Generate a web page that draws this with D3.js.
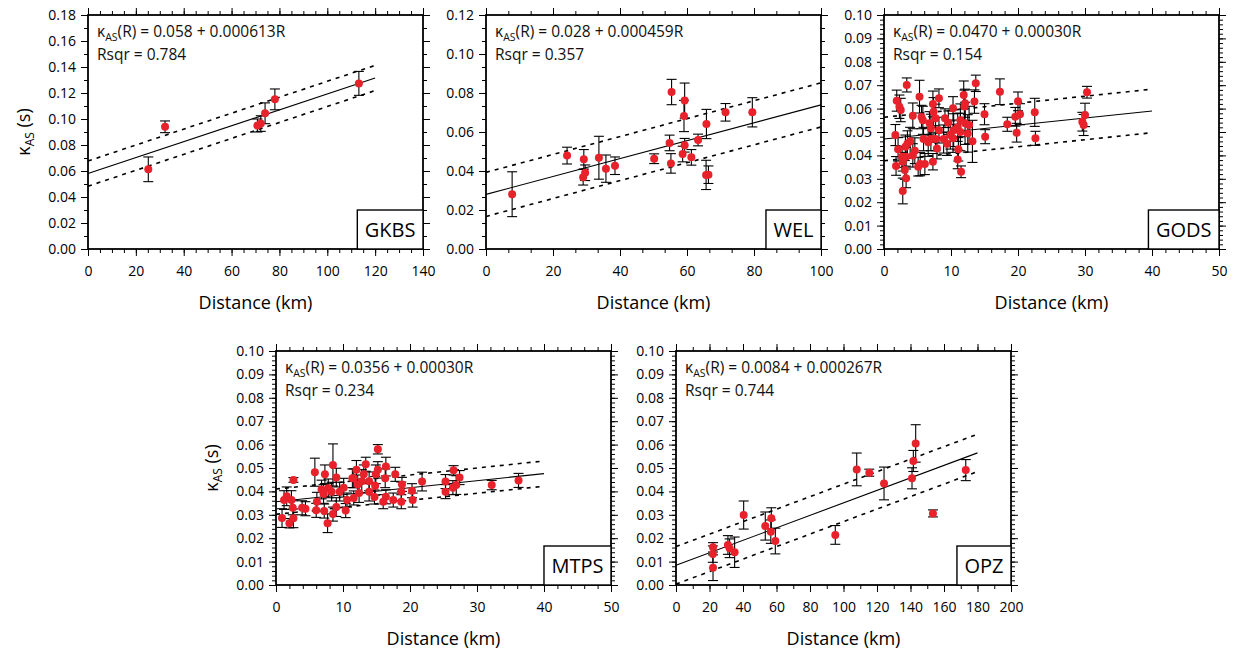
<!DOCTYPE html>
<html>
<head>
<meta charset="utf-8">
<script src="https://cdn.jsdelivr.net/npm/d3@7"></script>
<style>
  body { margin: 0; background: #fff; }
  svg { display: block; font-family: "Open Sans", sans-serif; }
</style>
</head>
<body>
<div id="chart"></div>
<script>
// ---- data (distance km, kappa s, error s) ----
const gkbsDist = [25.2, 32.2, 70.8, 72.2, 74.0, 78.1, 113.2];
const gkbsKappa = [0.0613, 0.0940, 0.0950, 0.0965, 0.1044, 0.1151, 0.1274];
const gkbsErr = [0.0095, 0.0045, 0.0050, 0.0060, 0.0080, 0.0080, 0.0092];

const welDist = [7.8, 24.2, 29.2, 29.6, 29.0, 33.7, 35.8, 38.5, 50.2, 54.8, 55.2, 55.4, 59.3, 59.1, 59.3, 58.7, 61.3, 63.3, 65.8, 65.7, 66.4, 71.5, 79.5];
const welKappa = [0.0281, 0.0479, 0.0460, 0.0391, 0.0368, 0.0468, 0.0412, 0.0427, 0.0463, 0.0544, 0.0439, 0.0805, 0.0761, 0.0682, 0.0532, 0.0487, 0.0470, 0.0559, 0.0641, 0.0380, 0.0381, 0.0701, 0.0701];
const welErr = [0.0115, 0.0043, 0.0050, 0.0040, 0.0040, 0.0110, 0.0070, 0.0045, 0.0025, 0.0040, 0.0050, 0.0065, 0.0090, 0.0080, 0.0035, 0.0040, 0.0040, 0.0030, 0.0075, 0.0075, 0.0045, 0.0045, 0.0075];

const godsDist = [30.3, 30.0, 29.6, 29.8, 22.5, 22.6, 20.0, 20.3, 19.6, 19.8, 17.3, 18.4, 15.0, 15.1, 13.7, 13.5, 12.1, 12.0, 11.9, 11.5,
  11.0, 11.1, 12.1, 12.5, 11.0, 11.4, 10.3, 10.3, 9.6, 9.1, 8.2, 7.3, 7.4, 7.0, 7.7, 7.9, 7.3, 7.0, 6.6, 6.1,
  5.4, 5.1, 5.3, 5.6, 5.8, 4.3, 3.9, 4.3, 4.6, 3.3, 3.4, 3.2, 3.1, 3.3, 2.8, 2.7, 2.8, 2.3, 1.9, 2.5,
  1.7, 1.8, 2.1, 3.5, 5.9, 8.9, 9.4, 9.9, 10.4, 11.4, 12.7, 13.2, 6.8, 7.7, 8.2];
const godsKappa = [0.0670, 0.0573, 0.0544, 0.0530, 0.0584, 0.0473, 0.0631, 0.0576, 0.0565, 0.0497, 0.0672, 0.0533, 0.0576, 0.0480, 0.0708, 0.0630, 0.0623, 0.0609, 0.0658, 0.0330,
  0.0383, 0.0426, 0.0537, 0.0494, 0.0520, 0.0550, 0.0601, 0.0473, 0.0540, 0.0559, 0.0644, 0.0620, 0.0587, 0.0516, 0.0470, 0.0430, 0.0373, 0.0470, 0.0456, 0.0363,
  0.0363, 0.0352, 0.0651, 0.0564, 0.0550, 0.0569, 0.0460, 0.0400, 0.0420, 0.0394, 0.0701, 0.0437, 0.0338, 0.0302, 0.0248, 0.0394, 0.0373, 0.0608, 0.0634, 0.0594,
  0.0487, 0.0355, 0.0426, 0.0450, 0.0470, 0.0470, 0.0450, 0.0487, 0.0508, 0.0500, 0.0530, 0.0460, 0.0537, 0.0559, 0.0508];
const godsErr = [0.0025, 0.0050, 0.0040, 0.0045, 0.0060, 0.0030, 0.0040, 0.0045, 0.0040, 0.0040, 0.0055, 0.0030, 0.0045, 0.0030, 0.0035, 0.0050, 0.0060, 0.0070, 0.0060, 0.0025,
  0.0040, 0.0050, 0.0090, 0.0080, 0.0060, 0.0070, 0.0050, 0.0060, 0.0050, 0.0040, 0.0040, 0.0055, 0.0060, 0.0060, 0.0050, 0.0045, 0.0035, 0.0050, 0.0060, 0.0045,
  0.0050, 0.0040, 0.0070, 0.0050, 0.0060, 0.0055, 0.0060, 0.0050, 0.0055, 0.0040, 0.0030, 0.0050, 0.0040, 0.0040, 0.0055, 0.0045, 0.0040, 0.0050, 0.0045, 0.0050,
  0.0045, 0.0040, 0.0050, 0.0055, 0.0050, 0.0060, 0.0050, 0.0060, 0.0070, 0.0080, 0.0080, 0.0090, 0.0050, 0.0060, 0.0055];

const mtpsDist = [36.2, 32.2, 26.5, 27.4, 26.9, 26.4, 25.3, 25.3, 21.8, 20.4, 20.3, 18.7, 18.8, 18.7, 17.8, 17.5, 15.2, 16.4, 16.3, 16.4,
  16.0, 14.9, 15.2, 14.8, 14.7, 13.9, 13.9, 13.4, 13.1, 12.8, 12.4, 12.0, 11.6, 11.4, 10.6, 10.4, 10.1, 9.5, 9.0, 8.5,
  8.5, 9.0, 8.3, 7.8, 7.3, 7.1, 6.8, 7.2, 7.7, 6.1, 6.0, 5.8, 4.4, 3.9, 2.6, 2.5, 2.6, 2.0, 2.3, 1.6,
  1.2, 0.9, 11.6, 12.2];
const mtpsKappa = [0.0447, 0.0427, 0.0490, 0.0459, 0.0427, 0.0416, 0.0442, 0.0399, 0.0442, 0.0363, 0.0403, 0.0356, 0.0430, 0.0400, 0.0473, 0.0363, 0.0580, 0.0506, 0.0456, 0.0377,
  0.0356, 0.0473, 0.0492, 0.0424, 0.0376, 0.0443, 0.0399, 0.0516, 0.0473, 0.0443, 0.0393, 0.0492, 0.0372, 0.0456, 0.0363, 0.0318, 0.0416, 0.0399, 0.0459, 0.0513,
  0.0303, 0.0333, 0.0399, 0.0413, 0.0473, 0.0389, 0.0408, 0.0316, 0.0264, 0.0356, 0.0319, 0.0482, 0.0326, 0.0330, 0.0449, 0.0330, 0.0285, 0.0264, 0.0363, 0.0379,
  0.0363, 0.0286, 0.0456, 0.0430];
const mtpsErr = [0.0030, 0.0020, 0.0020, 0.0030, 0.0040, 0.0030, 0.0030, 0.0030, 0.0040, 0.0030, 0.0030, 0.0030, 0.0030, 0.0040, 0.0030, 0.0030, 0.0020, 0.0040, 0.0040, 0.0030,
  0.0030, 0.0040, 0.0035, 0.0040, 0.0030, 0.0040, 0.0040, 0.0030, 0.0040, 0.0050, 0.0040, 0.0040, 0.0030, 0.0040, 0.0030, 0.0030, 0.0040, 0.0040, 0.0040, 0.0090,
  0.0030, 0.0040, 0.0040, 0.0040, 0.0040, 0.0040, 0.0040, 0.0030, 0.0040, 0.0040, 0.0030, 0.0060, 0.0030, 0.0030, 0.0010, 0.0030, 0.0040, 0.0020, 0.0040, 0.0040,
  0.0040, 0.0040, 0.0040, 0.0040];

const opzDist = [22.1, 22.0, 22.1, 31.0, 32.0, 35.0, 40.4, 53.3, 56.9, 56.6, 59.3, 95.1, 107.9, 115.4, 124.2, 140.9, 141.7, 143.1, 153.4, 173.0];
const opzKappa = [0.0161, 0.0132, 0.0074, 0.0171, 0.0157, 0.0140, 0.0299, 0.0252, 0.0285, 0.0228, 0.0188, 0.0214, 0.0494, 0.0480, 0.0434, 0.0456, 0.0530, 0.0605, 0.0306, 0.0491];
const opzErr = [0.0020, 0.0035, 0.0055, 0.0040, 0.0040, 0.0065, 0.0060, 0.0060, 0.0045, 0.0050, 0.0055, 0.0040, 0.0070, 0.0015, 0.0070, 0.0045, 0.0045, 0.0080, 0.0015, 0.0045];

// regression: [intercept, slope, max distance, band half-width]
const gkbsFit = [0.058, 0.000613, 120, 0.0097];
const welFit = [0.028, 0.000459, 100, 0.0113];
const godsFit = [0.0470, 0.00030, 40, 0.0093];
const mtpsFit = [0.0356, 0.00030, 40, 0.0054];
const opzFit = [0.0084, 0.000267, 180, 0.0080];

const width = 1238;
const height = 652;
const plotW = 335;
const plotH = 234;
const pointColor = '#e8222b';

const panels = [
  {name: 'GKBS', dist: gkbsDist, kappa: gkbsKappa, err: gkbsErr, fit: gkbsFit, eq: '(R) = 0.058 + 0.000613R', rsq: 'Rsqr = 0.784',
    left: 88, top: 15, xMax: 140, xStep: 20, xMinor: 5, yMax: 0.18, yStep: 0.02, yMinor: 0.01, yLabel: true},
  {name: 'WEL', dist: welDist, kappa: welKappa, err: welErr, fit: welFit, eq: '(R) = 0.028 + 0.000459R', rsq: 'Rsqr = 0.357',
    left: 486, top: 15, xMax: 100, xStep: 20, xMinor: 20 / 3, yMax: 0.12, yStep: 0.02, yMinor: 0.02 / 3},
  {name: 'GODS', dist: godsDist, kappa: godsKappa, err: godsErr, fit: godsFit, eq: '(R) = 0.0470 + 0.00030R', rsq: 'Rsqr = 0.154',
    left: 884, top: 15, xMax: 50, xStep: 10, xMinor: 2, yMax: 0.10, yStep: 0.01, yMinor: 0.002},
  {name: 'MTPS', dist: mtpsDist, kappa: mtpsKappa, err: mtpsErr, fit: mtpsFit, eq: '(R) = 0.0356 + 0.00030R', rsq: 'Rsqr = 0.234',
    left: 276, top: 351, xMax: 50, xStep: 10, xMinor: 2, yMax: 0.10, yStep: 0.01, yMinor: 0.002, yLabel: true},
  {name: 'OPZ', dist: opzDist, kappa: opzKappa, err: opzErr, fit: opzFit, eq: '(R) = 0.0084 + 0.000267R', rsq: 'Rsqr = 0.744',
    left: 676, top: 351, xMax: 200, xStep: 20, xMinor: 10, yMax: 0.10, yStep: 0.01, yMinor: 0.002}
];

function steps(max, step) {
  const n = Math.round(max / step);
  return d3.range(n + 1).map(i => i * step);
}

function cleanAxis(g) {
  g.select('.domain').remove();
  g.selectAll('line').attr('stroke', '#000').attr('stroke-width', 1);
}

function renderPanel(svg, p) {
  const x = d3.scaleLinear().domain([0, p.xMax]).range([0, plotW]);
  const y = d3.scaleLinear().domain([0, p.yMax]).range([plotH, 0]);
  const g = svg.append('g').attr('transform', `translate(${p.left},${p.top})`);

  const xMajor = steps(p.xMax, p.xStep);
  const xMinor = steps(p.xMax, p.xMinor);
  const yMajor = steps(p.yMax, p.yStep);
  const yMinor = steps(p.yMax, p.yMinor);

  // minor ticks on all four sides
  g.append('g').attr('transform', `translate(0,${plotH})`)
    .call(d3.axisBottom(x).tickValues(xMinor).tickSize(4).tickFormat(''))
    .call(cleanAxis);
  g.append('g')
    .call(d3.axisTop(x).tickValues(xMinor).tickSize(4).tickFormat(''))
    .call(cleanAxis);
  g.append('g')
    .call(d3.axisLeft(y).tickValues(yMinor).tickSize(4).tickFormat(''))
    .call(cleanAxis);
  g.append('g').attr('transform', `translate(${plotW},0)`)
    .call(d3.axisRight(y).tickValues(yMinor).tickSize(4).tickFormat(''))
    .call(cleanAxis);

  // major ticks
  const xAxis = g.append('g').attr('transform', `translate(0,${plotH})`)
    .call(d3.axisBottom(x).tickValues(xMajor).tickSize(7).tickPadding(10).tickFormat(d3.format('d')))
    .call(cleanAxis);
  g.append('g')
    .call(d3.axisTop(x).tickValues(xMajor).tickSize(7).tickFormat(''))
    .call(cleanAxis);
  const yAxis = g.append('g')
    .call(d3.axisLeft(y).tickValues(yMajor).tickSize(7).tickPadding(5).tickFormat(d3.format('.2f')))
    .call(cleanAxis);
  g.append('g').attr('transform', `translate(${plotW},0)`)
    .call(d3.axisRight(y).tickValues(yMajor).tickSize(7).tickFormat(''))
    .call(cleanAxis);

  xAxis.selectAll('text').attr('font-size', 14).attr('font-family', '"Open Sans", sans-serif').attr('fill', '#000');
  yAxis.selectAll('text').attr('font-size', 14).attr('font-family', '"Open Sans", sans-serif').attr('fill', '#000');

  // plot area
  const plot = g.append('g');
  const [b0, b1, rMax, band] = p.fit;
  const fitLine = d3.line().x(d => x(d[0])).y(d => y(d[1]));
  const ends = [0, rMax];
  [band, -band].forEach(off => {
    plot.append('path')
      .attr('d', fitLine(ends.map(r => [r, b0 + b1 * r + off])))
      .attr('fill', 'none')
      .attr('stroke', '#000')
      .attr('stroke-width', 1.6)
      .attr('stroke-dasharray', '4,5');
  });
  plot.append('path')
    .attr('d', fitLine(ends.map(r => [r, b0 + b1 * r])))
    .attr('fill', 'none')
    .attr('stroke', '#000')
    .attr('stroke-width', 1.1);

  const pts = p.dist.map((d, i) => ({d, k: p.kappa[i], e: p.err[i]}));
  const bars = plot.append('g').attr('stroke', '#000').attr('stroke-width', 1.1);
  pts.forEach(pt => {
    const cx = x(pt.d);
    const yTop = y(pt.k + pt.e);
    const yBot = y(pt.k - pt.e);
    bars.append('line').attr('x1', cx).attr('x2', cx).attr('y1', yTop).attr('y2', yBot);
    bars.append('line').attr('x1', cx - 5).attr('x2', cx + 5).attr('y1', yTop).attr('y2', yTop);
    bars.append('line').attr('x1', cx - 5).attr('x2', cx + 5).attr('y1', yBot).attr('y2', yBot);
  });
  plot.append('g').selectAll('circle')
    .data(pts)
    .join('circle')
    .attr('cx', d => x(d.d))
    .attr('cy', d => y(d.k))
    .attr('r', 4)
    .attr('fill', pointColor);

  // frame
  g.append('rect')
    .attr('width', plotW)
    .attr('height', plotH)
    .attr('fill', 'none')
    .attr('stroke', '#000')
    .attr('stroke-width', 1.8);

  // equation text
  const eq = g.append('text')
    .attr('x', 9)
    .attr('y', 22)
    .attr('font-size', 15.5)
    .attr('fill', '#111');
  eq.append('tspan').text('κ');
  eq.append('tspan').attr('font-size', 10.5).attr('dy', 4).text('AS');
  eq.append('tspan').attr('dy', -4).text(p.eq);
  g.append('text')
    .attr('x', 9)
    .attr('y', 45)
    .attr('font-size', 15.5)
    .attr('fill', '#111')
    .text(p.rsq);

  // station label box
  const label = g.append('text')
    .attr('font-size', 20)
    .attr('text-anchor', 'middle')
    .attr('fill', '#000')
    .text(p.name);
  const tw = label.node().getComputedTextLength();
  const bw = tw + 15;
  const bh = 39;
  g.append('rect')
    .attr('x', plotW - bw)
    .attr('y', plotH - bh)
    .attr('width', bw)
    .attr('height', bh)
    .attr('fill', '#fff')
    .attr('stroke', '#000')
    .attr('stroke-width', 1.4);
  label.raise()
    .attr('x', plotW - bw / 2)
    .attr('y', plotH - bh / 2 + 7);

  // axis titles
  g.append('text')
    .attr('x', plotW / 2)
    .attr('y', plotH + 60)
    .attr('text-anchor', 'middle')
    .attr('font-size', 18)
    .attr('fill', '#000')
    .text('Distance (km)');

  if (p.yLabel) {
    const yl = g.append('text')
      .attr('transform', `translate(-58,${plotH / 2}) rotate(-90)`)
      .attr('text-anchor', 'middle')
      .attr('font-size', 18)
      .attr('fill', '#000');
    yl.append('tspan').text('κ');
    yl.append('tspan').attr('font-size', 12).attr('dy', 4).text('AS');
    yl.append('tspan').attr('dy', -4).text(' (s)');
  }
}

const svg = d3.select('#chart')
  .append('svg')
  .attr('width', width)
  .attr('height', height);

svg.append('rect').attr('width', width).attr('height', height).attr('fill', '#fff');

panels.forEach(p => renderPanel(svg, p));
</script>
</body>
</html>
